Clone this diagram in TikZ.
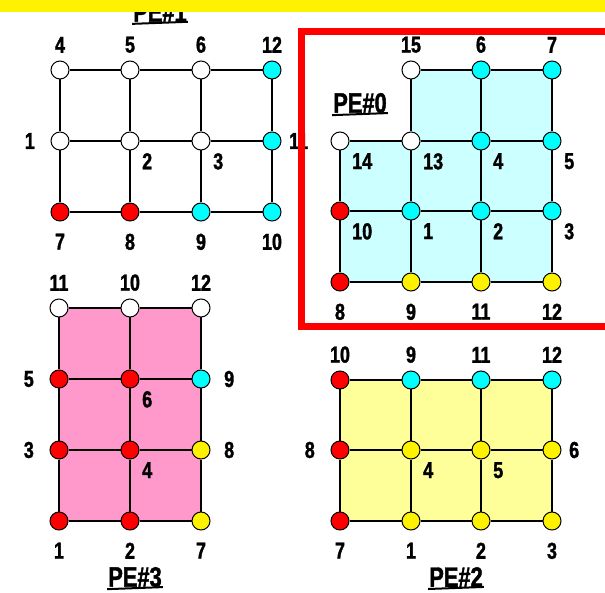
\documentclass[tikz,border=0pt]{standalone}
\usepackage{fontspec}
\setmainfont{Liberation Sans}[FakeStretch=0.78, BoldFeatures={FakeBold=1.5}]
\usetikzlibrary{positioning, backgrounds}
\definecolor{pecyan}{HTML}{00FFFF}
\definecolor{pefillcyan}{HTML}{CCFFFF}
\definecolor{pefillpink}{HTML}{FF99CC}
\definecolor{pefillyellow}{HTML}{FFFF99}

\begin{document}
\begin{tikzpicture}[
  x=1pt, y=-1pt,
  label distance=7.5pt,
  dot/.style = {circle, draw, line width=1pt, minimum size=18pt, inner sep=0pt},
  white dot/.style  = {dot, fill=white},
  cyan dot/.style   = {dot, fill=pecyan},
  red dot/.style    = {dot, fill=red},
  yellow dot/.style = {dot, fill=yellow},
  lbl/.style = {font=\fontsize{23}{23}\selectfont\bfseries, inner sep=0pt},
  up/.style      = {label={[lbl]above:#1}},
  down/.style    = {label={[lbl,yshift=-4.5pt]below:#1}},
  lft/.style     = {label={[lbl,xshift=-8pt]left:#1}},
  rgt/.style     = {label={[lbl]right:#1}},
  far rgt/.style = {label={[lbl,xshift=6pt]right:#1}},
  inside/.style  = {label={[lbl]-45:#1}},
  link/.style = {line width=1.6pt},
  title/.style = {font=\fontsize{28}{28}\selectfont\bfseries, inner sep=0pt,
    append after command={
      (\tikzlastnode.south west) edge[line width=2pt, shorten <=-1pt, shorten >=-1pt, yshift=-2pt]
      (\tikzlastnode.south east)}},
]
\useasboundingbox (0,0) rectangle (605,593);

% PE#1
\node[white dot, up=4]     (n4-p1)  at (60,70)   {};
\node[white dot, up=5]     (n5-p1)  at (130,70)  {};
\node[white dot, up=6]     (n6-p1)  at (201,70)  {};
\node[cyan dot, up=12]     (n12-p1) at (272,70)  {};
\node[white dot, lft=1]    (n1-p1)  at (60,141)  {};
\node[white dot, inside=2] (n2-p1)  at (130,141) {};
\node[white dot, inside=3] (n3-p1)  at (201,141) {};
\node[cyan dot, rgt=11]    (n11-p1) at (272,141) {};
\node[red dot, down=7]     (n7-p1)  at (60,212)  {};
\node[red dot, down=8]     (n8-p1)  at (130,212) {};
\node[cyan dot, down=9]    (n9-p1)  at (201,212) {};
\node[cyan dot, down=10]   (n10-p1) at (272,212) {};

\draw[link] (n4-p1) -- (n5-p1) -- (n6-p1) -- (n12-p1);
\draw[link] (n1-p1) -- (n2-p1) -- (n3-p1) -- (n11-p1);
\draw[link] (n7-p1) -- (n8-p1) -- (n9-p1) -- (n10-p1);
\draw[link] (n4-p1) -- (n1-p1) -- (n7-p1);
\draw[link] (n5-p1) -- (n2-p1) -- (n8-p1);
\draw[link] (n6-p1) -- (n3-p1) -- (n9-p1);
\draw[link] (n12-p1) -- (n11-p1) -- (n10-p1);

\node[title] (pe1-title) at (160,12) {PE\#1};

% PE#0
\node[white dot, up=15]     (n15-p0) at (411,70)  {};
\node[cyan dot, up=6]       (n6-p0)  at (481,70)  {};
\node[cyan dot, up=7]       (n7-p0)  at (552,70)  {};
\node[white dot, inside=14] (n14-p0) at (340,141) {};
\node[white dot, inside=13] (n13-p0) at (411,141) {};
\node[cyan dot, inside=4]   (n4-p0)  at (481,141) {};
\node[cyan dot, inside=5]   (n5-p0)  at (552,141) {};
\node[red dot, inside=10]   (n10-p0) at (340,211) {};
\node[cyan dot, inside=1]   (n1-p0)  at (411,211) {};
\node[cyan dot, inside=2]   (n2-p0)  at (481,211) {};
\node[cyan dot, inside=3]   (n3-p0)  at (552,211) {};
\node[red dot, down=8]      (n8-p0)  at (340,282) {};
\node[yellow dot, down=9]   (n9-p0)  at (411,282) {};
\node[yellow dot, down=11]  (n11-p0) at (481,282) {};
\node[yellow dot, down=12]  (n12-p0) at (552,282) {};

\draw[link] (n15-p0) -- (n6-p0) -- (n7-p0);
\draw[link] (n14-p0) -- (n13-p0) -- (n4-p0) -- (n5-p0);
\draw[link] (n10-p0) -- (n1-p0) -- (n2-p0) -- (n3-p0);
\draw[link] (n8-p0) -- (n9-p0) -- (n11-p0) -- (n12-p0);
\draw[link] (n14-p0) -- (n10-p0) -- (n8-p0);
\draw[link] (n15-p0) -- (n13-p0) -- (n1-p0) -- (n9-p0);
\draw[link] (n6-p0) -- (n4-p0) -- (n2-p0) -- (n11-p0);
\draw[link] (n7-p0) -- (n5-p0) -- (n3-p0) -- (n12-p0);

\node[title] (pe0-title) at (360,103) {PE\#0};

% PE#3
\node[white dot, up=11]    (n11-p3) at (59,308)  {};
\node[white dot, up=10]    (n10-p3) at (130,308) {};
\node[white dot, up=12]    (n12-p3) at (201,308) {};
\node[red dot, lft=5]      (n5-p3)  at (59,379)  {};
\node[red dot, inside=6]   (n6-p3)  at (130,379) {};
\node[cyan dot, far rgt=9] (n9-p3)  at (201,379) {};
\node[red dot, lft=3]      (n3-p3)  at (59,450)  {};
\node[red dot, inside=4]   (n4-p3)  at (130,450) {};
\node[yellow dot, far rgt=8] (n8-p3) at (201,450) {};
\node[red dot, down=1]     (n1-p3)  at (59,521)  {};
\node[red dot, down=2]     (n2-p3)  at (130,521) {};
\node[yellow dot, down=7]  (n7-p3)  at (201,521) {};

\draw[link] (n11-p3) -- (n10-p3) -- (n12-p3);
\draw[link] (n5-p3) -- (n6-p3) -- (n9-p3);
\draw[link] (n3-p3) -- (n4-p3) -- (n8-p3);
\draw[link] (n1-p3) -- (n2-p3) -- (n7-p3);
\draw[link] (n11-p3) -- (n5-p3) -- (n3-p3) -- (n1-p3);
\draw[link] (n10-p3) -- (n6-p3) -- (n4-p3) -- (n2-p3);
\draw[link] (n12-p3) -- (n9-p3) -- (n8-p3) -- (n7-p3);

\node[title] (pe3-title) at (135,577) {PE\#3};

% PE#2
\node[red dot, up=10]       (n10-p2) at (340,380) {};
\node[cyan dot, up=9]       (n9-p2)  at (411,380) {};
\node[cyan dot, up=11]      (n11-p2) at (481,380) {};
\node[cyan dot, up=12]      (n12-p2) at (552,380) {};
\node[red dot, lft=8]       (n8-p2)  at (340,450) {};
\node[yellow dot, inside=4] (n4-p2)  at (411,450) {};
\node[yellow dot, inside=5] (n5-p2)  at (481,450) {};
\node[yellow dot, rgt=6]    (n6-p2)  at (552,450) {};
\node[red dot, down=7]      (n7-p2)  at (340,521) {};
\node[yellow dot, down=1]   (n1-p2)  at (411,521) {};
\node[yellow dot, down=2]   (n2-p2)  at (481,521) {};
\node[yellow dot, down=3]   (n3-p2)  at (552,521) {};

\draw[link] (n10-p2) -- (n9-p2) -- (n11-p2) -- (n12-p2);
\draw[link] (n8-p2) -- (n4-p2) -- (n5-p2) -- (n6-p2);
\draw[link] (n7-p2) -- (n1-p2) -- (n2-p2) -- (n3-p2);
\draw[link] (n10-p2) -- (n8-p2) -- (n7-p2);
\draw[link] (n9-p2) -- (n4-p2) -- (n1-p2);
\draw[link] (n11-p2) -- (n5-p2) -- (n2-p2);
\draw[link] (n12-p2) -- (n6-p2) -- (n3-p2);

\node[title] (pe2-title) at (456,577) {PE\#2};

% fills behind the meshes
\begin{scope}[on background layer]
  \fill[pefillcyan] (n15-p0.center) -- (n7-p0.center) -- (n12-p0.center)
    -- (n8-p0.center) -- (n14-p0.center) -- (n13-p0.center) -- cycle;
  \fill[pefillpink] (n11-p3.center) rectangle (n7-p3.center);
  \fill[pefillyellow] (n10-p2.center) rectangle (n3-p2.center);
\end{scope}

% banner and frame
\fill[yellow] (0,0) rectangle (605,12);
\draw[red, line width=7pt] (605,31.5) -- (301.7,31.5) -- (301.7,326.3) -- (605,326.3);

\end{tikzpicture}
\end{document}
